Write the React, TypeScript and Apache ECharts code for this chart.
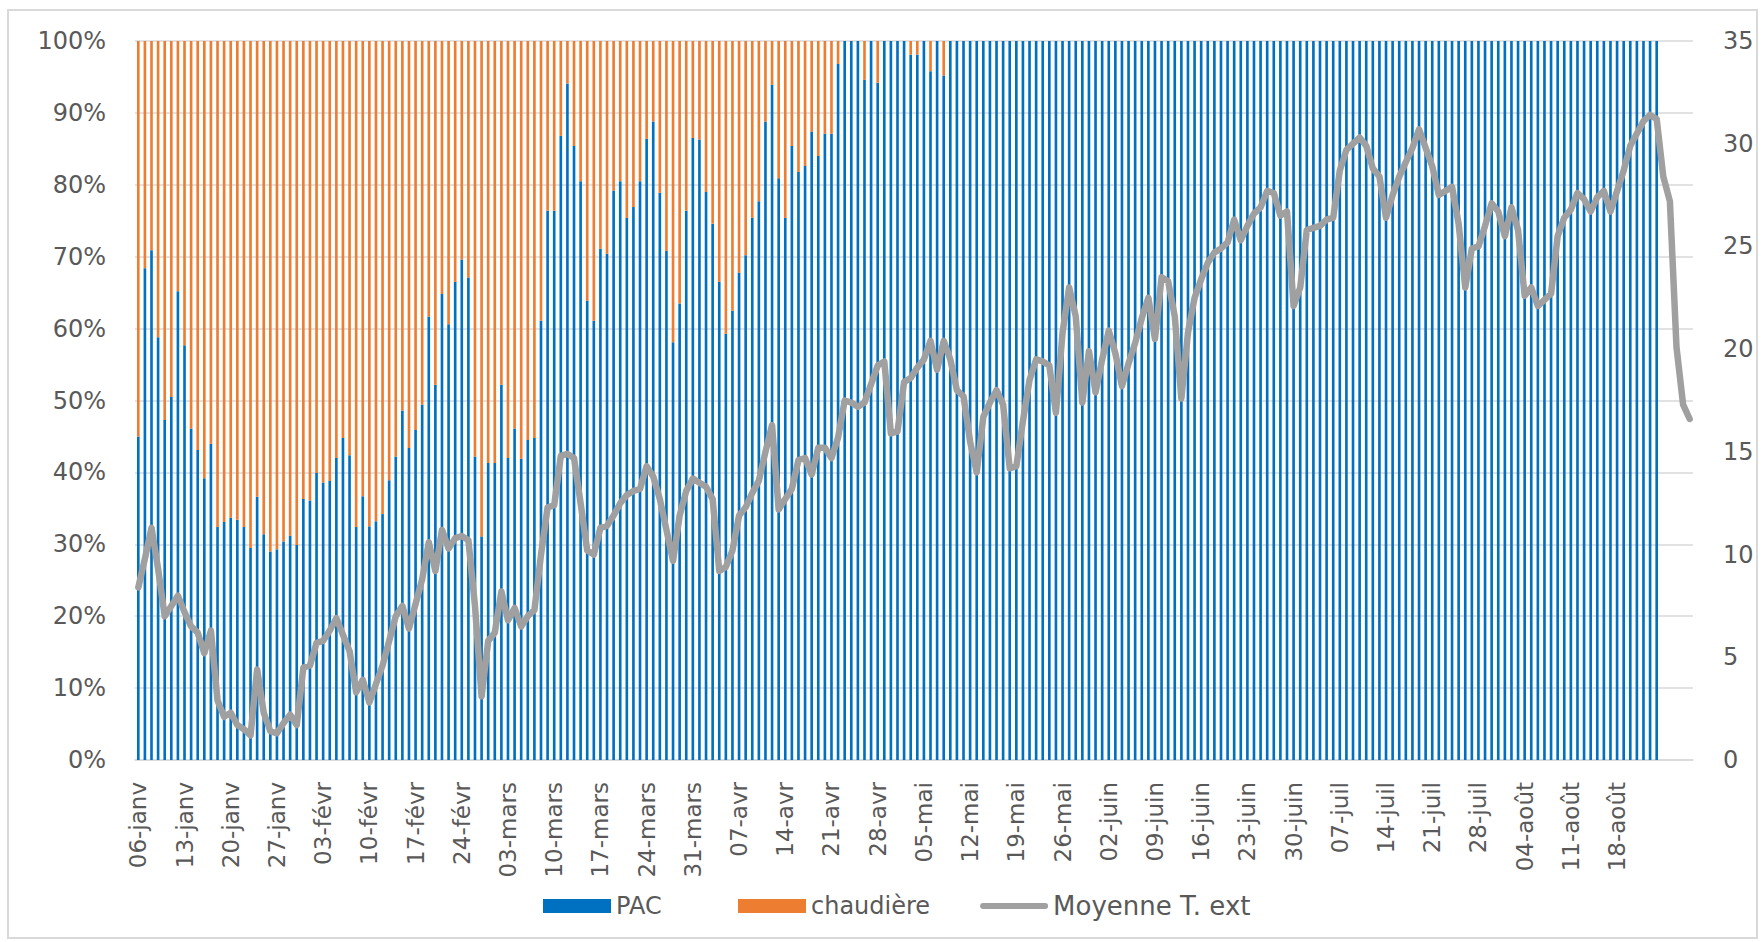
import React, { useEffect, useRef } from "react";
import * as echarts from "echarts";

// ---- Data ----
const monthNames = ["janv", "févr", "mars", "avr", "mai", "juin", "juil", "août"];
const monthDays = [31, 28, 31, 30, 31, 30, 31, 31];
const firstDay = 6; // 06-janv
const dayCount = 236;

// PAC share of heating (%) per day, 06-janv .. 24-août
const pacShare = [
  45, 68.4, 70.9, 58.8, 47.3, 50.5, 65.2, 57.7, 46.1, 43.1,
  39.2, 44, 32.4, 33.1, 33.7, 33.4, 32.4, 29.5, 36.6, 31.4,
  29.0, 29.3, 30.4, 31.2, 29.9, 36.3, 36.1, 39.9, 38.6, 38.8,
  42.0, 44.8, 42.4, 32.4, 36.7, 32.5, 33.2, 34.2, 38.9, 42.2,
  48.6, 43.4, 45.9, 49.4, 61.7, 52.2, 64.8, 60.6, 66.5, 69.6,
  67.1, 42.2, 31.1, 41.3, 41.3, 52.2, 42.0, 46.1, 41.9, 44.5,
  44.8, 61.1, 76.4, 76.4, 86.8, 94.1, 85.4, 80.5, 63.9, 61.1,
  71.1, 70.4, 79.2, 80.5, 75.4, 76.9, 80.5, 86.4, 88.8, 78.9,
  70.8, 58.1, 63.5, 76.4, 86.5, 86.3, 79.0, 74.6, 66.5, 59.3,
  62.5, 67.8, 70.2, 75.4, 77.7, 88.8, 93.9, 80.9, 75.4, 85.4,
  81.8, 82.6, 87.4, 84.0, 87.1, 87.1, 96.8, 100, 100, 100,
  94.6, 100, 94.2, 100, 100, 100, 100, 98.1, 98.1, 100,
  95.8, 100, 95.2, 100, 100, 100, 100, 100, 100, 100,
  100, 100, 100, 100, 100, 100, 100, 100, 100, 100,
  100, 100, 100, 100, 100, 100, 100, 100, 100, 100,
  100, 100, 100, 100, 100, 100, 100, 100, 100, 100,
  100, 100, 100, 100, 100, 100, 100, 100, 100, 100,
  100, 100, 100, 100, 100, 100, 100, 100, 100, 100,
  100, 100, 100, 100, 100, 100, 100, 100, 100, 100,
  100, 100, 100, 100, 100, 100, 100, 100, 100, 100,
  100, 100, 100, 100, 100, 100, 100, 100, 100, 100,
  100, 100, 100, 100, 100, 100, 100, 100, 100, 100,
  100, 100, 100, 100, 100, 100, 100, 100, 100, 100,
  100,
];

// Mean outdoor temperature (°C) per day, 06-janv .. 29-août
const meanTemp = [
  8.4, 9.8, 11.3, 9.3, 7.0, 7.5, 8.0, 7.2, 6.5, 6.2,
  5.2, 6.3, 2.9, 2.1, 2.3, 1.7, 1.5, 1.2, 4.4, 2.3,
  1.4, 1.3, 1.8, 2.2, 1.7, 4.5, 4.6, 5.7, 5.8, 6.3,
  6.9, 6.1, 5.3, 3.3, 3.9, 2.8, 3.7, 4.6, 5.8, 7.0,
  7.5, 6.4, 7.6, 8.8, 10.6, 9.2, 11.2, 10.3, 10.8, 10.9,
  10.7, 7.5, 3.1, 5.8, 6.2, 8.2, 6.8, 7.4, 6.5, 7.0,
  7.3, 10.0, 12.3, 12.4, 14.8, 14.9, 14.7, 12.5, 10.2, 10.0,
  11.3, 11.4, 11.9, 12.5, 12.9, 13.1, 13.2, 14.3, 13.8, 12.7,
  11.2, 9.7, 11.9, 13.1, 13.7, 13.5, 13.3, 12.7, 9.2, 9.4,
  10.2, 11.9, 12.3, 13.0, 13.6, 15.0, 16.3, 12.2, 12.7, 13.2,
  14.6, 14.7, 13.9, 15.2, 15.2, 14.7, 15.7, 17.5, 17.4, 17.2,
  17.4, 18.3, 19.2, 19.4, 15.9, 16.0, 18.4, 18.6, 19.1, 19.5,
  20.4, 19.0, 20.4, 19.5, 18.0, 17.7, 15.5, 14.0, 16.7, 17.4,
  18.0, 17.3, 14.2, 14.3, 16.5, 18.5, 19.5, 19.4, 19.2, 16.9,
  20.8, 23.0, 21.6, 17.4, 19.9, 17.9, 19.5, 20.9, 19.8, 18.2,
  19.3, 20.3, 21.5, 22.5, 20.5, 23.5, 23.3, 21.6, 17.6, 20.8,
  22.5, 23.4, 24.2, 24.7, 24.9, 25.2, 26.3, 25.3, 26.0, 26.6,
  26.9, 27.7, 27.6, 26.5, 26.7, 22.1, 23.0, 25.8, 25.9, 26.0,
  26.3, 26.4, 28.7, 29.7, 30.0, 30.3, 29.9, 28.8, 28.4, 26.4,
  27.5, 28.4, 29.1, 29.8, 30.7, 29.8, 28.9, 27.5, 27.7, 27.9,
  26.1, 23.0, 24.9, 25.0, 26.0, 27.1, 26.7, 25.5, 26.9, 25.8,
  22.6, 23.0, 22.1, 22.4, 22.7, 25.5, 26.4, 26.8, 27.6, 27.3,
  26.7, 27.4, 27.7, 26.7, 27.7, 28.7, 29.9, 30.5, 31.1, 31.4,
  31.2, 28.4, 27.2, 20.1, 17.3, 16.6,
];

const seriesNames = ["PAC", "chaudière", "Moyenne T. ext"];
const lastLabelIndex = 224; // 18-août

function buildCategories(): string[] {
  const out: string[] = [];
  let m = 0;
  let d = firstDay;
  for (let k = 0; k < dayCount; k++) {
    out.push(String(d).padStart(2, "0") + "-" + monthNames[m]);
    d++;
    if (d > monthDays[m]) {
      d = 1;
      m++;
    }
  }
  return out;
}

const FONT = "DejaVu Sans";
const TXT = "#595959";

export default function App() {
  const ref = useRef<HTMLDivElement>(null);

  useEffect(() => {
    if (!ref.current) return;
    const chart = echarts.init(ref.current, null, { renderer: "svg" });
    const categories = buildCategories();
    const chaudiere = pacShare.map((v) => Math.round((100 - v) * 10) / 10);

    chart.setOption({
      animation: false,
      backgroundColor: "#ffffff",
      graphic: [
        {
          type: "rect",
          shape: { x: 8, y: 10, width: 1749, height: 928 },
          style: { fill: "none", stroke: "#d9d9d9", lineWidth: 2 },
          silent: true,
        },
      ],
      grid: { left: 135, right: 71, top: 41, bottom: 182, containLabel: false },
      legend: {
        left: 543,
        top: 892,
        padding: 0,
        itemWidth: 68,
        itemHeight: 14,
        itemGap: 50,
        textStyle: { fontFamily: FONT, fontSize: 24, color: TXT, lineHeight: 28 },
        data: [
          { name: seriesNames[0], icon: "rect", textStyle: { width: 72 } },
          { name: seriesNames[1], icon: "rect" },
          {
            name: seriesNames[2],
            icon: "path://M3,0L65,0A3,3,0,0,1,65,6L3,6A3,3,0,0,1,3,0Z",
            itemStyle: { borderWidth: 0, color: "#a0a0a0" },
            textStyle: { fontSize: 26 },
          },
        ],
      },
      xAxis: {
        type: "category",
        data: categories,
        boundaryGap: true,
        axisLine: { show: true, lineStyle: { color: "#d9d9d9", width: 1.5 } },
        axisTick: { show: false },
        axisLabel: {
          rotate: 90,
          margin: 22,
          interval: (i: number) => i % 7 === 0 && i <= lastLabelIndex,
          fontFamily: FONT,
          fontSize: 23,
          color: TXT,
        },
        splitLine: { show: false },
      },
      yAxis: [
        {
          type: "value",
          min: 0,
          max: 100,
          interval: 10,
          axisLine: { show: false },
          axisTick: { show: false },
          axisLabel: {
            formatter: "{value}%",
            margin: 29,
            fontFamily: FONT,
            fontSize: 24,
            color: TXT,
          },
          splitLine: { show: true, lineStyle: { color: "#d9d9d9", width: 1.5 } },
        },
        {
          type: "value",
          min: 0,
          max: 35,
          interval: 5,
          position: "right",
          axisLine: { show: false },
          axisTick: { show: false },
          axisLabel: { margin: 30, fontFamily: FONT, fontSize: 24, color: TXT },
          splitLine: { show: false },
        },
      ],
      series: [
        {
          name: seriesNames[0],
          type: "bar",
          stack: "total",
          data: pacShare,
          barWidth: "40%",
          color: "#0070C0",
          itemStyle: { color: "#0070C0" },
        },
        {
          name: seriesNames[1],
          type: "bar",
          stack: "total",
          data: chaudiere,
          barWidth: "40%",
          color: "#ED7D31",
          itemStyle: { color: "#ED7D31" },
        },
        {
          name: seriesNames[2],
          type: "line",
          yAxisIndex: 1,
          data: meanTemp,
          symbol: "none",
          showSymbol: false,
          color: "#a0a0a0",
          z: 5,
          lineStyle: { color: "#a0a0a0", width: 6.5, join: "round", cap: "round" },
        },
      ],
    });

    return () => chart.dispose();
  }, []);

  return (
    <div
      ref={ref}
      style={{ position: "fixed", left: 0, top: 0, width: 1764, height: 942, background: "#fff" }}
    />
  );
}
